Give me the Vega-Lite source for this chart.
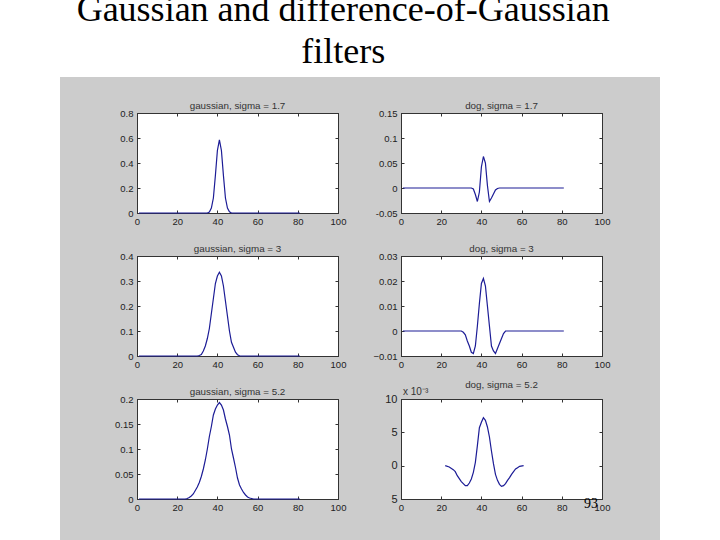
{
  "$schema": "https://vega.github.io/schema/vega-lite/v6.json",
  "description": "Gaussian and difference-of-Gaussian filters slide, six small Matlab panels",
  "background": "#cccccc",
  "padding": 0,
  "autosize": {"type": "pad"},
  "datasets": {
    "blank": [{"a": 0}],
    "heading": [
      {"x": 47.2, "y": 13, "text": "Gaussian and difference-of-Gaussian"},
      {"x": 47.2, "y": 68, "text": "filters"}
    ],
    "g17": [
      {"x": 1, "y": 0}, {"x": 35, "y": 0}, {"x": 36, "y": 0.008}, {"x": 37, "y": 0.04}, {"x": 38, "y": 0.12}, {"x": 39, "y": 0.3},
      {"x": 40, "y": 0.5}, {"x": 41, "y": 0.585}, {"x": 42, "y": 0.5}, {"x": 43, "y": 0.3}, {"x": 44, "y": 0.12}, {"x": 45, "y": 0.04},
      {"x": 46, "y": 0.01}, {"x": 47, "y": 0}, {"x": 81, "y": 0}
    ],
    "g3": [
      {"x": 1, "y": 0}, {"x": 30, "y": 0}, {"x": 31, "y": 0.002}, {"x": 32, "y": 0.006}, {"x": 33, "y": 0.02}, {"x": 34, "y": 0.04},
      {"x": 35, "y": 0.07}, {"x": 36, "y": 0.11}, {"x": 37, "y": 0.17}, {"x": 38, "y": 0.23}, {"x": 39, "y": 0.29}, {"x": 40, "y": 0.32},
      {"x": 41, "y": 0.335}, {"x": 42, "y": 0.32}, {"x": 43, "y": 0.28}, {"x": 44, "y": 0.22}, {"x": 45, "y": 0.16}, {"x": 46, "y": 0.1},
      {"x": 47, "y": 0.055}, {"x": 48, "y": 0.035}, {"x": 49, "y": 0.015}, {"x": 50, "y": 0.005}, {"x": 51, "y": 0.001}, {"x": 52, "y": 0}, {"x": 81, "y": 0}
    ],
    "g52": [
      {"x": 1, "y": 0}, {"x": 24, "y": 0}, {"x": 25, "y": 0.001}, {"x": 26, "y": 0.003}, {"x": 27, "y": 0.006}, {"x": 28, "y": 0.01},
      {"x": 29, "y": 0.017}, {"x": 30, "y": 0.024}, {"x": 31, "y": 0.033}, {"x": 32, "y": 0.045}, {"x": 33, "y": 0.06}, {"x": 34, "y": 0.078},
      {"x": 35, "y": 0.1}, {"x": 36, "y": 0.125}, {"x": 37, "y": 0.145}, {"x": 38, "y": 0.168}, {"x": 39, "y": 0.18}, {"x": 40, "y": 0.188},
      {"x": 41, "y": 0.193}, {"x": 42, "y": 0.188}, {"x": 43, "y": 0.178}, {"x": 44, "y": 0.16}, {"x": 45, "y": 0.145}, {"x": 46, "y": 0.128},
      {"x": 47, "y": 0.1}, {"x": 48, "y": 0.082}, {"x": 49, "y": 0.063}, {"x": 50, "y": 0.042}, {"x": 51, "y": 0.028}, {"x": 52, "y": 0.02},
      {"x": 53, "y": 0.013}, {"x": 54, "y": 0.008}, {"x": 55, "y": 0.004}, {"x": 56, "y": 0.002}, {"x": 57, "y": 0.001}, {"x": 58, "y": 0}, {"x": 81, "y": 0}
    ],
    "d17": [
      {"x": 1, "y": 0}, {"x": 35, "y": 0}, {"x": 36, "y": -0.002}, {"x": 37, "y": -0.013}, {"x": 38, "y": -0.027}, {"x": 39, "y": -0.008},
      {"x": 40, "y": 0.042}, {"x": 41, "y": 0.063}, {"x": 42, "y": 0.05}, {"x": 43, "y": 0.005}, {"x": 44, "y": -0.027}, {"x": 45, "y": -0.02},
      {"x": 46, "y": -0.012}, {"x": 47, "y": -0.004}, {"x": 48, "y": -0.001}, {"x": 49, "y": 0}, {"x": 81, "y": 0}
    ],
    "d3": [
      {"x": 1, "y": 0}, {"x": 30, "y": 0}, {"x": 31, "y": -0.0005}, {"x": 32, "y": -0.0015}, {"x": 33, "y": -0.004}, {"x": 34, "y": -0.006},
      {"x": 35, "y": -0.0085}, {"x": 36, "y": -0.009}, {"x": 37, "y": -0.006}, {"x": 38, "y": 0.002}, {"x": 39, "y": 0.011}, {"x": 40, "y": 0.019},
      {"x": 41, "y": 0.021}, {"x": 42, "y": 0.018}, {"x": 43, "y": 0.01}, {"x": 44, "y": 0.002}, {"x": 45, "y": -0.006}, {"x": 46, "y": -0.008},
      {"x": 47, "y": -0.009}, {"x": 48, "y": -0.007}, {"x": 49, "y": -0.005}, {"x": 50, "y": -0.003}, {"x": 51, "y": -0.001}, {"x": 52, "y": 0}, {"x": 81, "y": 0}
    ],
    "d52": [
      {"x": 22, "y": 0}, {"x": 24, "y": -0.2}, {"x": 26, "y": -0.6}, {"x": 27, "y": -0.9}, {"x": 28, "y": -1.5}, {"x": 30, "y": -2.4},
      {"x": 32, "y": -3}, {"x": 33, "y": -3}, {"x": 34, "y": -2.6}, {"x": 35, "y": -2}, {"x": 36, "y": -1}, {"x": 37, "y": 0.5},
      {"x": 38, "y": 3}, {"x": 39, "y": 5.7}, {"x": 40, "y": 6.5}, {"x": 41, "y": 7.2}, {"x": 42, "y": 6.8}, {"x": 43, "y": 5.8},
      {"x": 44, "y": 4.3}, {"x": 45, "y": 2.2}, {"x": 46, "y": 0.3}, {"x": 47, "y": -1.3}, {"x": 48, "y": -2.2}, {"x": 49, "y": -2.8},
      {"x": 50, "y": -3.1}, {"x": 51, "y": -3}, {"x": 52, "y": -2.7}, {"x": 53, "y": -2.2}, {"x": 54, "y": -1.8}, {"x": 55, "y": -1.3},
      {"x": 56, "y": -0.9}, {"x": 57, "y": -0.5}, {"x": 58, "y": -0.3}, {"x": 59, "y": -0.1}, {"x": 61, "y": 0}
    ],
    "exponent": [{"x": 1, "y": 11.1, "text": "x 10⁻³"}],
    "slide": [{"x": 94.5, "y": -5.7, "text": "93"}]
  },
  "hconcat": [
    {
      "data": {"name": "blank"},
      "width": 60,
      "height": 540,
      "view": {"fill": "white", "stroke": null},
      "mark": {"type": "rect", "opacity": 0}
    },
    {
      "spacing": 23,
      "vconcat": [
        {
          "data": {"name": "heading"},
          "width": 600,
          "height": 77,
          "view": {"fill": "white", "stroke": null},
          "mark": {"type": "text", "font": "Liberation Serif", "fontSize": 36, "color": "black", "clip": true},
          "encoding": {
            "x": {"field": "x", "type": "quantitative", "axis": null, "scale": {"domain": [0, 100]}},
            "y": {"field": "y", "type": "quantitative", "axis": null, "scale": {"domain": [0, 100], "reverse": true}},
            "text": {"field": "text"}
          }
        },
        {
          "spacing": 0,
          "hconcat": [
            {
              "data": {"name": "blank"},
              "width": 54,
              "height": 10,
              "view": {"stroke": null},
              "mark": {"type": "rect", "opacity": 0}
            },
            {
              "columns": 2,
              "bounds": "flush",
              "spacing": {"row": 43, "column": 63},
              "concat": [
                {
                  "data": {"name": "g17"},
                  "title": "gaussian, sigma = 1.7",
                  "width": 201,
                  "height": 100,
                  "resolve": {"axis": {"x": "independent", "y": "independent"}},
                  "layer": [
                    {
                      "mark": {"type": "line", "color": "#1c1c96", "strokeWidth": 1.2},
                      "encoding": {
                        "x": {"field": "x", "type": "quantitative", "title": null, "scale": {"domain": [0, 100], "nice": false}, "axis": {"values": [0, 20, 40, 60, 80, 100]}},
                        "y": {"field": "y", "type": "quantitative", "title": null, "scale": {"domain": [0, 0.8], "nice": false}, "axis": {"values": [0, 0.2, 0.4, 0.6, 0.8], "labelPadding": 7, "labelExpr": "datum.value == 0 ? '0' : format(datum.value, '.1f')"}}
                      }
                    },
                    {
                      "mark": {"type": "line", "opacity": 0},
                      "encoding": {
                        "x": {"field": "x", "type": "quantitative", "title": null, "axis": {"orient": "top", "labels": false, "values": [0, 20, 40, 60, 80, 100]}},
                        "y": {"field": "y", "type": "quantitative", "title": null, "axis": {"orient": "right", "labels": false, "values": [0, 0.2, 0.4, 0.6, 0.8]}}
                      }
                    }
                  ]
                },
                {
                  "data": {"name": "d17"},
                  "title": "dog, sigma = 1.7",
                  "width": 201,
                  "height": 100,
                  "resolve": {"axis": {"x": "independent", "y": "independent"}},
                  "layer": [
                    {
                      "mark": {"type": "line", "color": "#1c1c96", "strokeWidth": 1.2},
                      "encoding": {
                        "x": {"field": "x", "type": "quantitative", "title": null, "scale": {"domain": [0, 100], "nice": false}, "axis": {"values": [0, 20, 40, 60, 80, 100]}},
                        "y": {"field": "y", "type": "quantitative", "title": null, "scale": {"domain": [-0.05, 0.15], "nice": false, "zero": false}, "axis": {"values": [-0.05, 0, 0.05, 0.1, 0.15], "labelPadding": 7, "labelExpr": "datum.value == 0 ? '0' : datum.value"}}
                      }
                    },
                    {
                      "mark": {"type": "line", "opacity": 0},
                      "encoding": {
                        "x": {"field": "x", "type": "quantitative", "title": null, "axis": {"orient": "top", "labels": false, "values": [0, 20, 40, 60, 80, 100]}},
                        "y": {"field": "y", "type": "quantitative", "title": null, "axis": {"orient": "right", "labels": false, "values": [-0.05, 0, 0.05, 0.1, 0.15]}}
                      }
                    }
                  ]
                },
                {
                  "data": {"name": "g3"},
                  "title": "gaussian, sigma = 3",
                  "width": 201,
                  "height": 100,
                  "resolve": {"axis": {"x": "independent", "y": "independent"}},
                  "layer": [
                    {
                      "mark": {"type": "line", "color": "#1c1c96", "strokeWidth": 1.2},
                      "encoding": {
                        "x": {"field": "x", "type": "quantitative", "title": null, "scale": {"domain": [0, 100], "nice": false}, "axis": {"values": [0, 20, 40, 60, 80, 100]}},
                        "y": {"field": "y", "type": "quantitative", "title": null, "scale": {"domain": [0, 0.4], "nice": false}, "axis": {"values": [0, 0.1, 0.2, 0.3, 0.4], "labelPadding": 7, "labelExpr": "datum.value == 0 ? '0' : format(datum.value, '.1f')"}}
                      }
                    },
                    {
                      "mark": {"type": "line", "opacity": 0},
                      "encoding": {
                        "x": {"field": "x", "type": "quantitative", "title": null, "axis": {"orient": "top", "labels": false, "values": [0, 20, 40, 60, 80, 100]}},
                        "y": {"field": "y", "type": "quantitative", "title": null, "axis": {"orient": "right", "labels": false, "values": [0, 0.1, 0.2, 0.3, 0.4]}}
                      }
                    }
                  ]
                },
                {
                  "data": {"name": "d3"},
                  "title": "dog, sigma = 3",
                  "width": 201,
                  "height": 100,
                  "resolve": {"axis": {"x": "independent", "y": "independent"}},
                  "layer": [
                    {
                      "mark": {"type": "line", "color": "#1c1c96", "strokeWidth": 1.2},
                      "encoding": {
                        "x": {"field": "x", "type": "quantitative", "title": null, "scale": {"domain": [0, 100], "nice": false}, "axis": {"values": [0, 20, 40, 60, 80, 100]}},
                        "y": {"field": "y", "type": "quantitative", "title": null, "scale": {"domain": [-0.01, 0.03], "nice": false, "zero": false}, "axis": {"values": [-0.01, 0, 0.01, 0.02, 0.03], "labelPadding": 7, "labelExpr": "datum.value == 0 ? '0' : format(datum.value, '.2f')"}}
                      }
                    },
                    {
                      "mark": {"type": "line", "opacity": 0},
                      "encoding": {
                        "x": {"field": "x", "type": "quantitative", "title": null, "axis": {"orient": "top", "labels": false, "values": [0, 20, 40, 60, 80, 100]}},
                        "y": {"field": "y", "type": "quantitative", "title": null, "axis": {"orient": "right", "labels": false, "values": [-0.01, 0, 0.01, 0.02, 0.03]}}
                      }
                    }
                  ]
                },
                {
                  "data": {"name": "g52"},
                  "title": "gaussian, sigma = 5.2",
                  "width": 201,
                  "height": 100,
                  "resolve": {"axis": {"x": "independent", "y": "independent"}},
                  "layer": [
                    {
                      "mark": {"type": "line", "color": "#1c1c96", "strokeWidth": 1.2},
                      "encoding": {
                        "x": {"field": "x", "type": "quantitative", "title": null, "scale": {"domain": [0, 100], "nice": false}, "axis": {"values": [0, 20, 40, 60, 80, 100]}},
                        "y": {"field": "y", "type": "quantitative", "title": null, "scale": {"domain": [0, 0.2], "nice": false}, "axis": {"values": [0, 0.05, 0.1, 0.15, 0.2], "labelPadding": 7, "labelExpr": "datum.value == 0 ? '0' : datum.value"}}
                      }
                    },
                    {
                      "mark": {"type": "line", "opacity": 0},
                      "encoding": {
                        "x": {"field": "x", "type": "quantitative", "title": null, "axis": {"orient": "top", "labels": false, "values": [0, 20, 40, 60, 80, 100]}},
                        "y": {"field": "y", "type": "quantitative", "title": null, "axis": {"orient": "right", "labels": false, "values": [0, 0.05, 0.1, 0.15, 0.2]}}
                      }
                    }
                  ]
                },
                {
                  "data": {"name": "d52"},
                  "title": "dog, sigma = 5.2",
                  "width": 201,
                  "height": 100,
                  "resolve": {"axis": {"x": "independent", "y": "independent"}},
                  "layer": [
                    {
                      "mark": {"type": "line", "color": "#1c1c96", "strokeWidth": 1.2},
                      "encoding": {
                        "x": {"field": "x", "type": "quantitative", "title": null, "scale": {"domain": [0, 100], "nice": false}, "axis": {"values": [0, 20, 40, 60, 80, 100]}},
                        "y": {"field": "y", "type": "quantitative", "title": null, "scale": {"domain": [-5, 10], "nice": false, "zero": false}, "axis": {"values": [-5, 0, 5, 10], "labelPadding": 7, "labelFontSize": 11, "labelExpr": "abs(datum.value)"}}
                      }
                    },
                    {
                      "mark": {"type": "line", "opacity": 0},
                      "encoding": {
                        "x": {"field": "x", "type": "quantitative", "title": null, "axis": {"orient": "top", "labels": false, "values": [0, 20, 40, 60, 80, 100]}},
                        "y": {"field": "y", "type": "quantitative", "title": null, "axis": {"orient": "right", "labels": false, "values": [-5, 0, 5, 10]}}
                      }
                    },
                    {
                      "data": {"name": "exponent"},
                      "mark": {"type": "text", "font": "Liberation Sans", "fontSize": 10, "color": "#333333", "align": "left"},
                      "encoding": {
                        "x": {"field": "x", "type": "quantitative", "axis": null},
                        "y": {"field": "y", "type": "quantitative", "axis": null},
                        "text": {"field": "text"}
                      }
                    },
                    {
                      "data": {"name": "slide"},
                      "mark": {"type": "text", "font": "Liberation Serif", "fontSize": 14, "color": "black"},
                      "encoding": {
                        "x": {"field": "x", "type": "quantitative", "axis": null},
                        "y": {"field": "y", "type": "quantitative", "axis": null},
                        "text": {"field": "text"}
                      }
                    }
                  ]
                }
              ]
            }
          ]
        }
      ]
    },
    {
      "data": {"name": "blank"},
      "width": 60,
      "height": 540,
      "view": {"fill": "white", "stroke": null},
      "mark": {"type": "rect", "opacity": 0}
    }
  ],
  "spacing": 0,
  "config": {
    "view": {"fill": "white", "stroke": "#444444"},
    "concat": {"spacing": 0},
    "title": {"font": "Liberation Sans", "fontSize": 9.8, "fontWeight": "normal", "color": "#333333", "offset": -3},
    "axis": {
      "grid": false,
      "labelFont": "Liberation Sans",
      "labelFontSize": 9.5,
      "labelColor": "#222222",
      "labelOverlap": false,
      "labelFlush": false,
      "labelPadding": 6,
      "tickSize": -3,
      "tickColor": "#333333",
      "domainColor": "#333333"
    }
  }
}
